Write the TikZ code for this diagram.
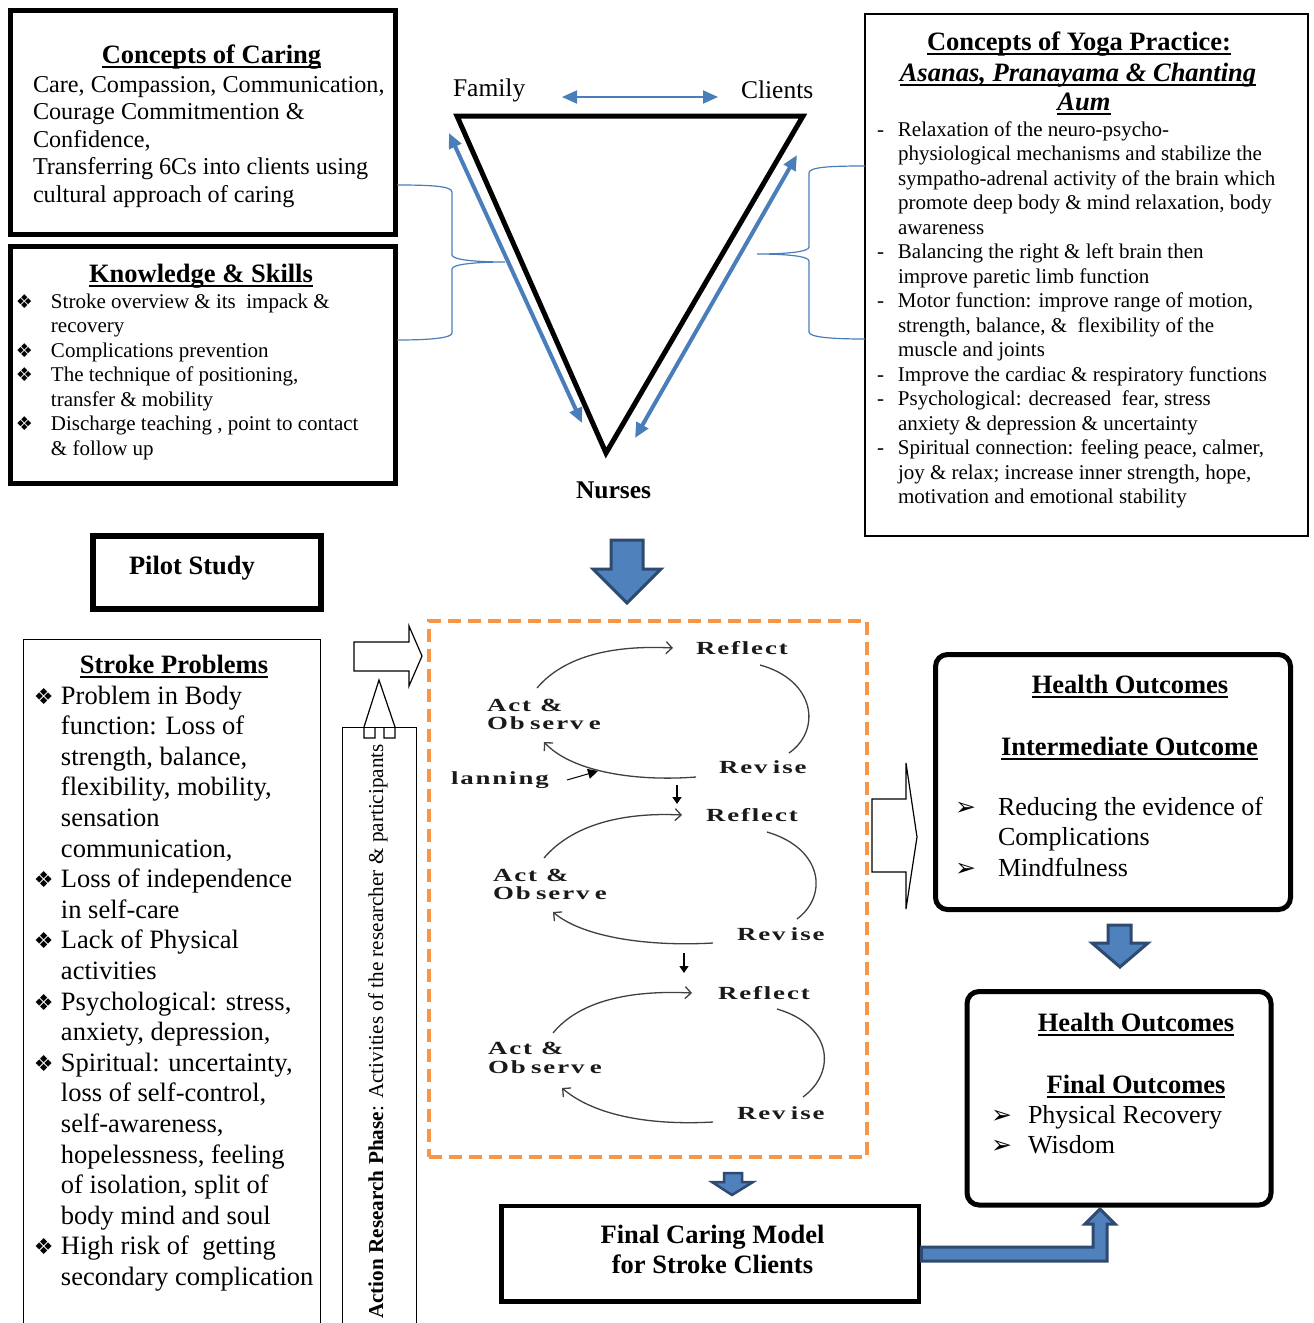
\documentclass[tikz,border=0pt]{standalone}
\usepackage{fontspec}
\setmainfont{Liberation Serif}
\newfontfamily\symfont{DejaVu Sans}
\usetikzlibrary{arrows.meta}
\definecolor{linkblue}{HTML}{4A7EBB}
\definecolor{arrowfill}{HTML}{4F81BD}
\definecolor{arrowedge}{HTML}{2E4A70}
\definecolor{cycorange}{HTML}{F79646}
\definecolor{cycink}{HTML}{1A1A1A}
% underline at a fixed depth, crossing the descenders
\newcommand\uln[1]{\sbox0{#1}\rlap{\rule[-4.6pt]{\wd0}{1.8pt}}\usebox0}
% font sizes
\newcommand\fTitle{\fontsize{26.5}{30}\selectfont\bfseries}
\newcommand\fBody{\fontsize{24.2}{27.5}\selectfont}
\newcommand\fSmall{\fontsize{21}{24.5}\selectfont}
\newcommand\fMid{\fontsize{26.5}{30.6}\selectfont}
\newcommand\fOut{\fontsize{26}{30.5}\selectfont}
% bullets
\newcommand\kb{\makebox[35pt][l]{\symfont\fontsize{19}{19}\selectfont ❖}}
\newcommand\sbul{\makebox[27pt][l]{\symfont\fontsize{22}{22}\selectfont ❖}}
\newcommand\yd{\makebox[21pt][l]{-}}
\newcommand\ha[1]{\makebox[#1][l]{\symfont\fontsize{25}{25}\selectfont ➢}}
% wide, letter-spaced labels of the action research cycles
\newlength\lskip \setlength\lskip{1.3pt}
\newcommand\spaced[1]{\scalebox{1.45}[1]{\spacedi#1\relax}}
\def\spacedi#1{\ifx#1\relax\else\ifx#1~\hspace{2.5pt}\else#1\kern\lskip\fi\expandafter\spacedi\fi}
\newcommand\cyc{\fontsize{18.5}{20}\selectfont\bfseries\color{cycink}}

\begin{document}
\begin{tikzpicture}[x=1pt,y=-1pt, line join=miter,
  heavy/.style={draw=black, line width=5pt, inner sep=0pt},
  light/.style={draw=black, line width=1pt},
  txt/.style={inner sep=0pt, outer sep=0pt},
  link/.style={draw=linkblue, line width=1.2pt},
  duo/.style={draw=linkblue, line width=4pt,
    {Triangle[length=15pt,width=13pt]}-{Triangle[length=15pt,width=13pt]}},
  blk/.style={fill=arrowfill, draw=arrowedge, line width=3pt, line join=miter},
  hollow/.style={draw=black, line width=1.2pt, fill=white, line join=miter},
  arc/.style={draw=black!75, line width=1.3pt},
  arcto/.style={arc, -{Straight Barb[length=6pt,width=12pt]}},
  drop/.style={draw=black, line width=1.5pt, -{Triangle[length=7pt,width=9pt]}},
  cyclabel/.style={txt, anchor=base west, font=\cyc}]
\useasboundingbox (0,0) rectangle (1314,1323);
\fill[white] (0,0) rectangle (1314,1323);

% ---------- frames ----------
\node[heavy, minimum width=385pt, minimum height=224.5pt] (caring) at (203,122.25) {};
\node[heavy, minimum width=385pt, minimum height=236.5pt] (skills) at (203,364.75) {};
\node[heavy, line width=2pt, minimum width=443pt, minimum height=521.5pt] (yoga) at (1086.5,274.75) {};
\node[heavy, line width=6pt, minimum width=227.5pt, minimum height=73.5pt] (pilot) at (206.75,572.25) {};
\draw[light] (23.5,1335) -- (23.5,639) -- (320,639) -- (320,1335);
\draw[light] (342.5,1335) -- (342.5,727) -- (416.5,727) -- (416.5,1335);
\node[draw=cycorange, line width=4pt, dash pattern=on 13pt off 7pt, inner sep=0pt,
  minimum width=438pt, minimum height=536pt] (cycles) at (648,889) {};
\node[heavy, rounded corners=12pt, minimum width=355pt, minimum height=255pt] (inter) at (1113,782) {};
\node[heavy, rounded corners=12pt, minimum width=304pt, minimum height=213.5pt] (final) at (1119,1098.25) {};
\node[heavy, line width=4.5pt, minimum width=417.5pt, minimum height=95.5pt] (model) at (710.25,1253.75) {};

% ---------- Concepts of Caring ----------
\node[txt, anchor=base] (caringT) at (211.5,63) {\fTitle\uln{Concepts of Caring}};
\node[txt, anchor=base west] (caringB) at (33,92) {\fBody\begin{tabular}[t]{@{}l@{}}
Care, Compassion, Communication,\\
Courage Commitmention \&\\
Confidence,\\
Transferring 6Cs into clients using\\
cultural approach of caring\end{tabular}};

% ---------- Knowledge & Skills ----------
\node[txt, anchor=base] (skillsT) at (201,282) {\fTitle\uln{Knowledge \& Skills}};
\node[txt, anchor=base west] (skillsB) at (16,308) {\fSmall\begin{tabular}[t]{@{}l@{}l@{}}
\kb & Stroke overview \& its\ \ impack \&\\
 & recovery\\
\kb & Complications prevention\\
\kb & The technique of positioning,\\
 & transfer \& mobility\\
\kb & Discharge teaching , point to contact\\
 & \& follow up\end{tabular}};

% ---------- Concepts of Yoga Practice ----------
\node[txt, anchor=base] (yogaT1) at (1079,50) {\fTitle\uln{Concepts of Yoga Practice:}};
\node[txt, anchor=base] (yogaT2) at (1078,81) {\fTitle\itshape\uln{Asanas, Pranayama \& Chanting}};
\node[txt, anchor=base] (yogaT3) at (1084,110) {\fTitle\itshape\uln{Aum}};
\node[txt, anchor=base west] (yogaB) at (877,136) {\fSmall\begin{tabular}[t]{@{}l@{}l@{}}
\yd & Relaxation of the neuro-psycho-\\
 & physiological mechanisms and stabilize the\\
 & sympatho-adrenal activity of the brain which\\
 & promote deep body \& mind relaxation, body\\
 & awareness\\
\yd & Balancing the right \& left brain then\\
 & improve paretic limb function\\
\yd & Motor function: improve range of motion,\\
 & strength, balance, \&\ \ flexibility of the\\
 & muscle and joints\\
\yd & Improve the cardiac \& respiratory functions\\
\yd & Psychological: decreased\ \ fear, stress\\
 & anxiety \& depression \& uncertainty\\
\yd & Spiritual connection: feeling peace, calmer,\\
 & joy \& relax; increase inner strength, hope,\\
 & motivation and emotional stability\end{tabular}};

% ---------- triangle of family, clients and nurses ----------
\coordinate (fam) at (457,116);
\coordinate (cli) at (803,116);
\coordinate (nur) at (606,453);
\draw[line width=5pt, miter limit=10] (fam) -- (cli) -- (nur) -- cycle;
\node[txt, anchor=base west, font=\fontsize{25.5}{28}\selectfont] (famT) at (453,96) {Family};
\node[txt, anchor=base west, font=\fontsize{25.5}{28}\selectfont] (cliT) at (741,98) {Clients};
\node[txt, anchor=base west, font=\fontsize{25.5}{28}\selectfont\bfseries] (nurT) at (576,498) {Nurses};
\coordinate (fc1) at (562,97);  \coordinate (fc2) at (718,97);
\coordinate (fn1) at (449,133); \coordinate (fn2) at (582,423);
\coordinate (cn1) at (797,155); \coordinate (cn2) at (635,438);
\draw[duo, line width=2pt] (fc1) -- (fc2);
\draw[duo] (fn1) -- (fn2);
\draw[duo] (cn1) -- (cn2);

% braces gathering the side boxes onto the triangle
\coordinate (lbTop) at (397,185);
\coordinate (lbBot) at (397,340);
\coordinate (lbTip) at (505,262);
\draw[link] (lbTop) .. controls (430,185) and (452,186) .. (452,192) -- (452,255)
  .. controls (452,260) and (478,262) .. (lbTip)
  .. controls (478,262) and (452,264) .. (452,269) -- (452,333)
  .. controls (452,338) and (430,340) .. (lbBot);
\coordinate (rbTop) at (865,166);
\coordinate (rbBot) at (865,339);
\coordinate (rbTip) at (757,254);
\draw[link] (rbTop) .. controls (830,166) and (809,167) .. (809,173) -- (809,247)
  .. controls (809,252) and (785,254) .. (rbTip)
  .. controls (785,254) and (809,256) .. (809,261) -- (809,332)
  .. controls (809,337) and (830,339) .. (rbBot);

% ---------- Pilot study and stroke problems ----------
\node[txt, anchor=base west] (pilotT) at (129,574) {\fTitle Pilot Study};
\node[txt, anchor=base] (strokeT) at (174,673.5) {\fTitle\uln{Stroke Problems}};
\node[txt, anchor=base west] (strokeB) at (34,704) {\fMid\begin{tabular}[t]{@{}l@{}l@{}}
\sbul & Problem in Body\\
 & function: Loss of\\
 & strength, balance,\\
 & flexibility, mobility,\\
 & sensation\\
 & communication,\\
\sbul & Loss of independence\\
 & in self-care\\
\sbul & Lack of Physical\\
 & activities\\
\sbul & Psychological: stress,\\
 & anxiety, depression,\\
\sbul & Spiritual: uncertainty,\\
 & loss of self-control,\\
 & self-awareness,\\
 & hopelessness, feeling\\
 & of isolation, split of\\
 & body mind and soul\\
\sbul & High risk of\ \ getting\\
 & secondary complication\end{tabular}};

% vertical phase label
\node[txt, rotate=90, anchor=base east, font=\fontsize{21.2}{24}\selectfont] (phase) at (383,744)
  {\textbf{Action Research Phase}: Activities of the researcher \& participants};
% hollow up arrow on top of the phase column
\draw[draw=black, line width=1.2pt] (375,727) -- (375,738) -- (364,738) -- (364,727) -- (379,680)
  -- (395,727) -- (395,738) -- (384,738) -- (384,727);
% hollow right arrow into the cycles
\draw[hollow] (354,642) -- (409,642) -- (409,626) -- (422,656) -- (409,686) -- (409,671) -- (354,671) -- cycle;

% ---------- action research cycles ----------
% cycle 1
\node[cyclabel] (ref1) at (696,654) {\spaced{Reflect}};
\node[cyclabel] (rev1) at (719,773) {\spaced{Rev~ise}};
\node[cyclabel] (act1) at (487,711) {\spaced{Act~~\&}};
\node[cyclabel] (obs1) at (487,729) {\spaced{Ob~serv~e}};
\node[cyclabel] (plan) at (451,784) {\spaced{lanning}};
\draw[arcto] (537,688) .. controls (565,655) and (615,645) .. (673,648);
\draw[arc] (760,665) .. controls (815,680) and (822,730) .. (789,753);
\draw[arcto] (696,777) .. controls (630,782) and (570,770) .. (544,742);
\draw[draw=black, line width=1pt, -{Triangle[length=10pt,width=10pt]}] (567,780) -- (598,771);
\draw[drop] (677,785) -- (677,804);
% cycle 2
\node[cyclabel] (ref2) at (706,821) {\spaced{Reflect}};
\node[cyclabel] (rev2) at (737,940) {\spaced{Rev~ise}};
\node[cyclabel] (act2) at (493,881) {\spaced{Act~~\&}};
\node[cyclabel] (obs2) at (493,899) {\spaced{Ob~serv~e}};
\draw[arcto] (544,858) .. controls (572,825) and (622,812) .. (682,815);
\draw[arc] (767,832) .. controls (822,848) and (829,895) .. (797,919);
\draw[arcto] (713,943) .. controls (640,947) and (580,935) .. (553,912);
\draw[drop] (684,953) -- (684,973);
% cycle 3
\node[cyclabel] (ref3) at (718,999) {\spaced{Reflect}};
\node[cyclabel] (rev3) at (737,1119) {\spaced{Rev~ise}};
\node[cyclabel] (act3) at (488,1054) {\spaced{Act~~\&}};
\node[cyclabel] (obs3) at (488,1073) {\spaced{Ob~serv~e}};
\draw[arcto] (553,1033) .. controls (580,1000) and (632,990) .. (692,993);
\draw[arc] (777,1009) .. controls (832,1025) and (837,1072) .. (803,1097);
\draw[arcto] (713,1122) .. controls (640,1126) and (590,1112) .. (562,1088);

% ---------- health outcomes ----------
\node[txt, anchor=base] (interT1) at (1130,693) {\fTitle\uln{Health Outcomes}};
\node[txt, anchor=base] (interT2) at (1129.5,755) {\fTitle\uln{Intermediate Outcome}};
\node[txt, anchor=base west] (interB) at (955,815) {\fOut\begin{tabular}[t]{@{}l@{}l@{}}
\ha{43pt} & Reducing the evidence of\\
 & Complications\\
\ha{43pt} & Mindfulness\end{tabular}};
\node[txt, anchor=base] (finalT1) at (1136,1031) {\fTitle\uln{Health Outcomes}};
\node[txt, anchor=base] (finalT2) at (1136,1093) {\fTitle\uln{Final Outcomes}};
\node[txt, anchor=base west] (finalB) at (991,1123) {\fOut\begin{tabular}[t]{@{}l@{}l@{}}
\ha{37pt} & Physical Recovery\\
\ha{37pt} & Wisdom\end{tabular}};
\node[txt, anchor=base] (modelT) at (712.5,1243) {\fTitle\begin{tabular}[t]{@{}c@{}}
Final Caring Model\\ for Stroke Clients\end{tabular}};

% hollow right arrow from the cycles to the intermediate outcome
\draw[hollow] (872,799) -- (906,799) -- (906,763) -- (917,837) -- (906,909) -- (906,872) -- (872,872) -- cycle;

% ---------- filled block arrows ----------
\draw[blk] (611,540) -- (643,540) -- (643,569) -- (661,569) -- (627,603) -- (593,569) -- (611,569) -- cycle;
\draw[blk] (1108,925) -- (1131,925) -- (1131,943) -- (1148,943) -- (1120,967) -- (1092,943) -- (1108,943) -- cycle;
\draw[blk, line width=2.5pt] (724,1173) -- (742,1173) -- (742,1182) -- (753,1182) -- (732,1195) -- (712,1182) -- (724,1182) -- cycle;
\draw[blk] (model.east |- 0,1247) -- (1093,1247) -- (1093,1224) -- (1085,1224) -- (1100,1209)
  -- (1115,1224) -- (1107,1224) -- (1107,1261) -- (model.east |- 0,1261) -- cycle;
\end{tikzpicture}
\end{document}
